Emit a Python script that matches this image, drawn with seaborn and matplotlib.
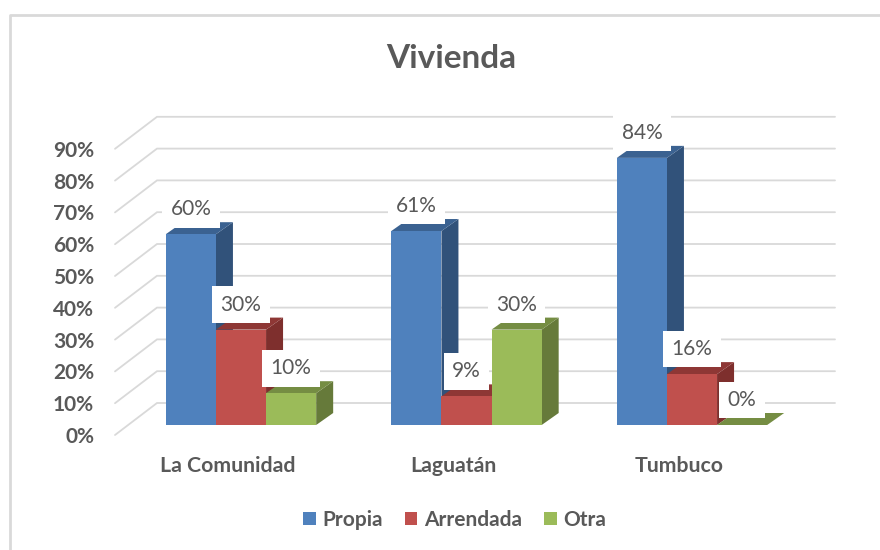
import matplotlib
matplotlib.use("Agg")
import matplotlib.pyplot as plt
from matplotlib.lines import Line2D
from matplotlib.patches import Polygon
import pandas as pd
import seaborn as sns

# ---- data ----
categories = ["La Comunidad", "Laguatán", "Tumbuco"]
propia = [60, 61, 84]
arrendada = [30, 9, 16]
otra = [10, 30, 0]
series_names = ["Propia", "Arrendada", "Otra"]
y_ticks = [0, 10, 20, 30, 40, 50, 60, 70, 80, 90]
title = "Vivienda"

# ---- colours ----
front_colors = ["#4F81BD", "#C0504D", "#9BBB59"]
side_colors = ["#31527A", "#7E2F2D", "#667A3A"]
top_colors = ["#3B6291", "#8E3735", "#758D43"]
grid_color = "#D9D9D9"
text_color = "#595959"

W, H = 880, 550
PX_PER_CAT = 225.5
PX_PER_PCT = 3.18

sns.set_theme(style="white")
plt.rcParams["font.family"] = ["Lato", "DejaVu Sans"]

df = pd.DataFrame({
    "cat": categories * 3,
    "serie": [s for s in series_names for _ in categories],
    "val": propia + arrendada + otra,
})

fig = plt.figure(figsize=(W / 100, H / 100), dpi=100, facecolor="white")


def make_axes(left_px, base_px, zorder):
    a = fig.add_axes([left_px / W, (H - base_px) / H, 725 / W, 318 / H], zorder=zorder)
    a.patch.set_visible(False)
    sns.despine(ax=a, left=True, bottom=True, right=True, top=True)
    return a


# front plane of the floor: carries the axis labels and the grid
ax_grid = make_axes(115, 435, 1)
# plane in which the bars stand
ax = make_axes(128, 425, 2)

x0 = (128 - 241) / PX_PER_CAT
xlim = (x0, x0 + 725 / PX_PER_CAT)

sns.barplot(data=df, x="cat", y="val", hue="serie", order=categories,
            hue_order=series_names, palette=front_colors, saturation=1,
            width=2 / 3, gap=0, dodge=True, ax=ax, linewidth=0)
ax.set_xlim(xlim)
ax.set_ylim(0, 100)
ax.set_xlabel("")
ax.set_ylabel("")
ax.set_xticks([])
ax.set_yticks([])

# 3D faces of every bar
du, dv = 17 / PX_PER_CAT, 12 / PX_PER_PCT
for i, cont in enumerate(ax.containers):
    for bar in cont:
        x, w, h = bar.get_x(), bar.get_width(), bar.get_height()
        bar.set_zorder(3 + 2 * i)
        ax.add_patch(Polygon([(x + w, 0), (x + w + du, dv), (x + w + du, h + dv), (x + w, h)],
                             closed=True, fc=side_colors[i], ec="none", zorder=2 + 2 * i))
        ax.add_patch(Polygon([(x, h), (x + du, h + dv), (x + w + du, h + dv), (x + w, h)],
                             closed=True, fc=top_colors[i], ec="none", zorder=2 + 2 * i))
        ax.annotate(f"{h:.0f}%", xy=(x + w / 2, h), xytext=(0, 25 * 0.72),
                    textcoords="offset points", ha="center", va="center",
                    fontsize=15, color=text_color, zorder=20,
                    bbox=dict(boxstyle="square,pad=0.4", fc="white", ec="none"))

# wall and floor gridlines
gx0 = (115 - 228) / PX_PER_CAT
gx1 = (157 - 228) / PX_PER_CAT
gx2 = (835 - 228) / PX_PER_CAT
gdv = 32 / PX_PER_PCT
for t in y_ticks:
    ax_grid.plot([gx0, gx1, gx2], [t, t + gdv, t + gdv], color=grid_color, lw=1.3,
                 clip_on=False, solid_joinstyle="miter")
ax_grid.set_xlim(xlim)
ax_grid.set_ylim(0, 100)
ax_grid.set_xticks(range(len(categories)), categories)
ax_grid.set_yticks(y_ticks, [f"{t}%" for t in y_ticks])
ax_grid.tick_params(axis="x", length=0, pad=15, labelsize=15.3, labelcolor=text_color)
ax_grid.tick_params(axis="y", length=0, pad=15, labelsize=15, labelcolor=text_color)
for lab in ax_grid.get_xticklabels() + ax_grid.get_yticklabels():
    lab.set_fontweight("bold")

# legend
sns.move_legend(ax, "center", bbox_to_anchor=((455 - 128) / 725, (425 - 520) / 318),
                ncols=3, frameon=False, title=None, handlelength=0.58,
                handleheight=0.58, handletextpad=0.34, columnspacing=1.06,
                labelcolor=text_color, prop={"weight": "bold", "size": 15})

fig.text(451 / W, 1 - 58.5 / H, title, ha="center", va="center", fontsize=24,
         fontweight="bold", color=text_color)

# chart frame
fig.add_artist(Line2D([9.5 / W, 9.5 / W, 1], [0, 1 - 14.5 / H, 1 - 14.5 / H],
                      color=grid_color, lw=2))

fig.savefig("out.png", dpi=100)
